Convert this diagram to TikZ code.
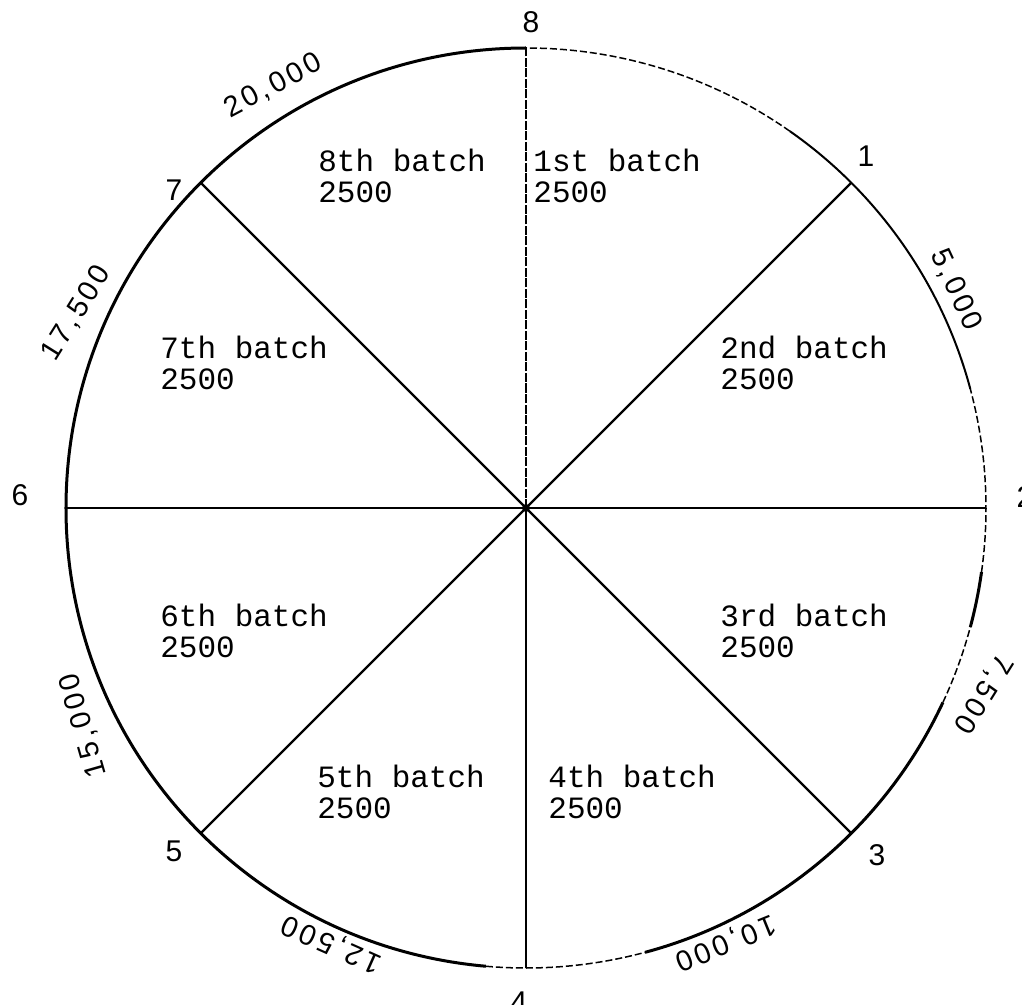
\documentclass[tikz,border=0pt]{standalone}
\usepackage{fontspec}
\setmonofont{Liberation Mono}
\newfontfamily\handfont{Liberation Sans}
\newfontfamily\totalfont[LetterSpace=12]{Liberation Sans}
\usetikzlibrary{calc}

\tikzset{
  rim/.style={line width=3pt},
  faint/.style={line width=1.5pt, dash pattern=on 7pt off 3pt},
  spoke/.style={line width=2.4pt},
  batch/.style={anchor=base west, align=left, inner sep=0pt,
    font=\ttfamily\fontsize{31}{31}\selectfont},
  pointnum/.style={font=\handfont\fontsize{30}{30}\selectfont, inner sep=0pt},
  total/.style={font=\totalfont\fontsize{29}{29}\selectfont, inner sep=0pt}
}

\begin{document}
\begin{tikzpicture}[x=1pt, y=1pt, thick]

        \useasboundingbox (-526,-496) rectangle (496,508);

        % ==========================================
        % 1. Cerchio
        % ==========================================
        \coordinate (c) at (0,0);
        \draw[rim] (90:460) arc (90:265:460);
        \draw[faint] (265:460) arc (265:285:460);
        \draw[rim] (285:460) arc (285:335:460);
        \draw[faint] (335:460) arc (335:345:460);
        \draw[rim] (345:460) arc (345:352:460);
        \draw[faint] (352:460) arc (352:375:460);
        \draw[line width=2pt] (15:460) arc (15:55:460);
        \draw[faint] (55:460) arc (55:90:460);

        % ==========================================
        % 2. Raggi
        % ==========================================
        \foreach \k in {1,...,8}
            \coordinate (p\k) at ({90-45*\k}:460);
        \foreach \k in {1,...,7}
            \draw[spoke] (c) -- (p\k);
        \draw[line width=2pt, dash pattern=on 9pt off 1.5pt] (c) -- (p8);
        \fill (c) circle (4pt);

        % ==========================================
        % 3. Numeri dei punti
        % ==========================================
        \node[pointnum] (n8) at (5,486) {8};
        \node[pointnum] (n1) at (340,352) {1};
        \node[pointnum] (n2) at (499,11) {2};
        \node[pointnum] (n3) at (351,-347) {3};
        \node[pointnum] (n4) at (-7,-494) {4};
        \node[pointnum] (n5) at (-352,-343) {5};
        \node[pointnum] (n6) at (-506,13) {6};
        \node[pointnum] (n7) at (-352,318) {7};

        % ==========================================
        % 4. Lotti
        % ==========================================
        \node[batch] (b1) at (7,305) {1st batch\\2500};
        \node[batch] (b2) at (194,118) {2nd batch\\2500};
        \node[batch] (b3) at (194,-149) {3rd batch\\2500};
        \node[batch] (b4) at (22,-310) {4th batch\\2500};
        \node[batch] (b5) at (-209,-310) {5th batch\\2500};
        \node[batch] (b6) at (-366,-149) {6th batch\\2500};
        \node[batch] (b7) at (-366,118) {7th batch\\2500};
        \node[batch] (b8) at (-208,305) {8th batch\\2500};

        % ==========================================
        % 5. Totali cumulati
        % ==========================================
        \node[total, rotate=-65] (v1) at (26.9:482) {5,000};
        \node[total, rotate=-122] (v2) at (-22.1:493) {7,500};
        \node[total, rotate=-158] (v3) at (-65.3:478) {10,000};
        \node[total, rotate=156] (v4) at (-114:477) {12,500};
        \node[total, rotate=106] (v5) at (-153.8:493) {15,000};
        \node[total, rotate=58] (v6) at (156.6:490) {17,500};
        \node[total, rotate=28] (v7) at (120.9:492) {20,000};

    \end{tikzpicture}
\end{document}
